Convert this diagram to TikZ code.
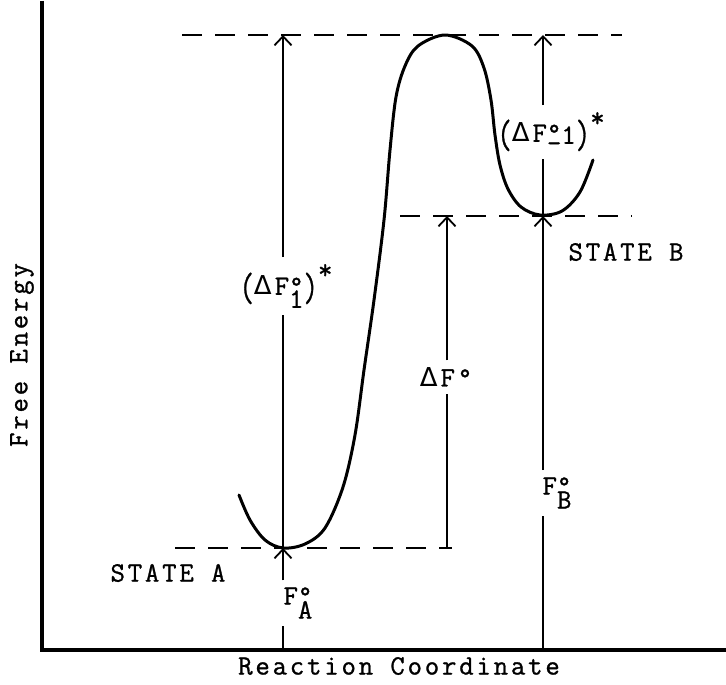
\documentclass[tikz,border=0pt]{standalone}
\usepackage{fontspec}
\newfontfamily\deltafont{DejaVu Sans}
\newfontfamily\twfont{Latin Modern Mono}[LetterSpace=10, FakeBold=1]
\usetikzlibrary{arrows.meta}
\newcommand\tw{\twfont\fontsize{28}{30}\selectfont}
\newcommand\tallparen[1]{\raisebox{-6pt}{\scalebox{1}[1.45]{#1}}}
\newcommand\dl{{\deltafont\fontsize{26}{28}\selectfont Δ}\hspace{3pt}}
\begin{document}
\begin{tikzpicture}[x=1pt,y=-1pt,
  axis/.style={line width=3.2pt},
  guide/.style={line width=1.9pt, dash pattern=on 20pt off 13pt},
  seg/.style={line width=1.8pt},
  arr/.style={line width=1.8pt,-{Straight Barb[length=9pt,width=17pt,line width=1.8pt]}},
  lbl/.style={font=\tw, inner xsep=0pt, inner ysep=7pt},
  txt/.style={font=\tw, inner sep=0pt},
  curve/.style={line width=3pt, line cap=round, line join=round}]
\useasboundingbox (0,0) rectangle (726,685);
% axes
\coordinate (Ytop) at (42,1);
\coordinate (O) at (42,650);
\coordinate (Xend) at (726,650);
\draw[axis] (Ytop) -- (O) -- (Xend);
% guide lines
\coordinate (t1) at (182,35);  \coordinate (t2) at (622,35);
\coordinate (m1) at (400,216); \coordinate (m2) at (632,216);
\coordinate (b1) at (175,548); \coordinate (b2) at (452,548);
\draw[guide] (t1) -- (t2);
\draw[guide] (m1) -- (m2);
\draw[guide] (b1) -- (b2);
% key points
\coordinate (A) at (283,548);
\coordinate (B) at (543,216);
\coordinate (TA) at (283,35);
\coordinate (TB) at (543,35);
\coordinate (AxA) at (283,650);
\coordinate (AxB) at (543,650);
\coordinate (DA) at (447,548);
\coordinate (DT) at (447,216);
% energy curve
\draw[curve] plot[smooth, tension=0.55] coordinates {
  (239,495) (250,520) (265,540) (283,548) (305,544) (325,528) (343,487)
  (355,435) (364,370) (374,300) (384,220) (390,150) (396,97) (405,66)
  (418,46) (445,35) (472,46) (484,68) (491,100) (495,135) (500,165)
  (508,189) (521,207) (540,215) (562,211) (580,192) (593,160)};
% labels
\node[lbl] (l1) at (286,286) {\tallparen{(}\dl F\rlap{°}\raisebox{-13pt}{1}\tallparen{)}\raisebox{16pt}{*}};
\node[lbl] (l2) at (551,132) {\tallparen{(}\dl F\rlap{°}\raisebox{-10pt}{-}\raisebox{-2pt}{1}\tallparen{)}\raisebox{15pt}{*}};
\node[lbl] (l3) at (446,377) {\dl F°};
\node[lbl] (l4) at (298,603) {F\rlap{°}\raisebox{-14pt}{A}};
\node[lbl] (l5) at (557,493) {F\rlap{°}\raisebox{-14pt}{B}};
\node[txt] (sa) at (168,573) {STATE A};
\node[txt] (sb) at (626,252) {STATE B};
\node[txt, rotate=90] (ylab) at (22,355) {Free Energy};
\node[txt] (xlab) at (399,666) {Reaction Coordinate};
% arrows
\draw[seg] (A) -- (l1.south -| A);
\draw[arr] (l1.north -| A) -- (TA);
\draw[seg] (AxA) -- (l4.south -| AxA);
\draw[arr] (l4.north -| AxA) -- (A);
\draw[seg] (DA) -- (l3.south -| DA);
\draw[arr] (l3.north -| DA) -- (DT);
\draw[seg] (B) -- (l2.south -| B);
\draw[arr] (l2.north -| B) -- (TB);
\draw[seg] (AxB) -- (l5.south -| AxB);
\draw[arr] (l5.north -| AxB) -- (B);
\end{tikzpicture}
\end{document}
